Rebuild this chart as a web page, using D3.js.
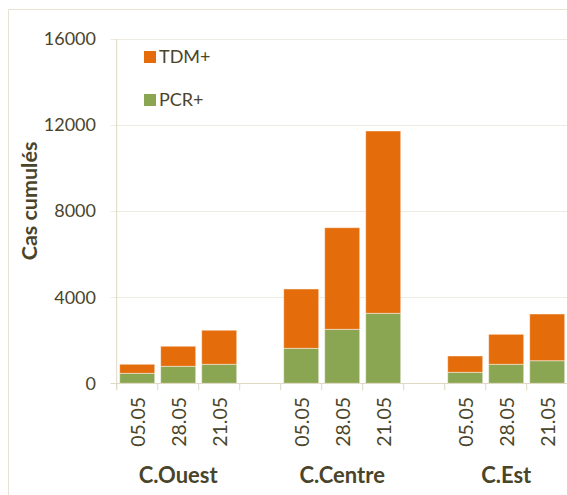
<!DOCTYPE html>
<html><head><meta charset="utf-8">
<script src="https://cdn.jsdelivr.net/npm/d3@7"></script>
<style>
html,body{margin:0;padding:0;background:#fff;}
svg{display:block;font-family:Lato,"Open Sans",sans-serif;}
</style></head>
<body>
<script>
const groups = ["C.Ouest", "C.Centre", "C.Est"];
const dates = ["05.05", "28.05", "21.05"];
const pcrValues = [465, 791, 884, 1626, 2509, 3253, 511, 883, 1050];
const tdmValues = [419, 930, 1581, 2756, 4722, 8471, 758, 1394, 2170];
const yTickValues = [0, 4000, 8000, 12000, 16000];
const seriesNames = ["TDM+", "PCR+"];

const W = 567, H = 495;
const textColor = "#4A452A";
const gridColor = "#EEECE1";
const axisColor = "#DDD9C3";
const colTDM = "#E46C0A";
const colPCR = "#8BA652";

const svg = d3.select("body").append("svg").attr("width", W).attr("height", H);

// outer frame
svg.append("path").attr("d", `M8.5,${H} V9.5 H${W}`).attr("fill", "none").attr("stroke", "#E6E3D3").attr("stroke-width", 1);

// slots
const slots = [];
const rows = [];
groups.forEach((g, gi) => {
  dates.forEach((d, di) => {
    const key = g + "|" + d;
    slots.push(key);
    rows.push({key, group: g, date: d, pcr: pcrValues[gi * 3 + di], tdm: tdmValues[gi * 3 + di]});
  });
  if (gi < groups.length - 1) slots.push("gap" + gi);
});

const x0 = 116.7, x1 = 567.7;
const x = d3.scaleBand().domain(slots).range([x0, x1]).paddingInner(0.146).paddingOuter(0.073);
const y = d3.scaleLinear().domain([0, 16000]).range([383.3, 39]);
const step = x.step();

// gridlines
svg.append("g").selectAll("line").data(yTickValues.filter(v => v > 0)).join("line")
  .attr("x1", x0 - 6).attr("x2", W)
  .attr("y1", d => Math.round(y(d)) + 0.5).attr("y2", d => Math.round(y(d)) + 0.5)
  .attr("stroke", gridColor).attr("stroke-width", 1.2);

// y axis line
svg.append("line").attr("x1", x0).attr("x2", x0).attr("y1", y(16000)).attr("y2", y(0) + 6)
  .attr("stroke", axisColor);
// zero tick
svg.append("line").attr("x1", x0 - 6).attr("x2", x0).attr("y1", Math.round(y(0)) + 0.5).attr("y2", Math.round(y(0)) + 0.5)
  .attr("stroke", axisColor);

// y tick labels
svg.append("g").selectAll("text").data(yTickValues).join("text")
  .attr("x", 96).attr("y", d => y(d)).attr("dy", "0.35em")
  .attr("text-anchor", "end").attr("fill", textColor).attr("font-size", 18)
  .text(d => d);

// stacked bars
const stack = d3.stack().keys(["pcr", "tdm"])(rows);
const colors = {pcr: colPCR, tdm: colTDM};
stack.forEach(layer => {
  svg.append("g").selectAll("rect").data(layer).join("rect")
    .attr("x", d => x(d.data.key))
    .attr("width", x.bandwidth())
    .attr("y", d => y(d[1]))
    .attr("height", d => y(d[0]) - y(d[1]))
    .attr("fill", colors[layer.key])
    .attr("stroke", "rgba(255,255,255,0.45)").attr("stroke-width", 1);
});

// x axis line
svg.append("line").attr("x1", x0).attr("x2", W).attr("y1", Math.round(y(0)) + 0.5).attr("y2", Math.round(y(0)) + 0.5)
  .attr("stroke", axisColor);
// x tick marks at slot boundaries
const bounds = slots.map((s, i) => x0 + i * step);
bounds.push(x0 + slots.length * step);
svg.append("g").selectAll("line").data(bounds).join("line")
  .attr("x1", d => d).attr("x2", d => d)
  .attr("y1", y(0)).attr("y2", y(0) + 7)
  .attr("stroke", axisColor);

// x tick labels (rotated)
svg.append("g").selectAll("text").data(rows).join("text")
  .attr("transform", d => `translate(${x(d.key) + x.bandwidth() / 2 + 1},397) rotate(-90)`)
  .attr("text-anchor", "end").attr("dy", "0.35em")
  .attr("fill", textColor).attr("font-size", 19.5)
  .text(d => d.date);

// group labels
groups.forEach(g => {
  const first = x(g + "|" + dates[0]);
  const last = x(g + "|" + dates[dates.length - 1]) + x.bandwidth();
  svg.append("text").attr("x", (first + last) / 2).attr("y", 483)
    .attr("text-anchor", "middle").attr("font-weight", "bold")
    .attr("fill", textColor).attr("font-size", 22).text(g);
});

// y axis title
svg.append("text").attr("transform", "translate(37,201) rotate(-90)")
  .attr("text-anchor", "middle").attr("font-weight", "bold")
  .attr("fill", textColor).attr("font-size", 21.5).text("Cas cumulés");

// legend
const legend = [{name: seriesNames[0], color: colTDM, y: 57}, {name: seriesNames[1], color: colPCR, y: 100}];
const lg = svg.append("g").selectAll("g").data(legend).join("g")
  .attr("transform", d => `translate(144,${d.y})`);
lg.append("rect").attr("x", 0).attr("y", -6).attr("width", 12).attr("height", 12).attr("fill", d => d.color);
lg.append("text").attr("x", 15).attr("dy", "0.35em").attr("fill", textColor).attr("font-size", 18).text(d => d.name);
</script>
</body></html>
